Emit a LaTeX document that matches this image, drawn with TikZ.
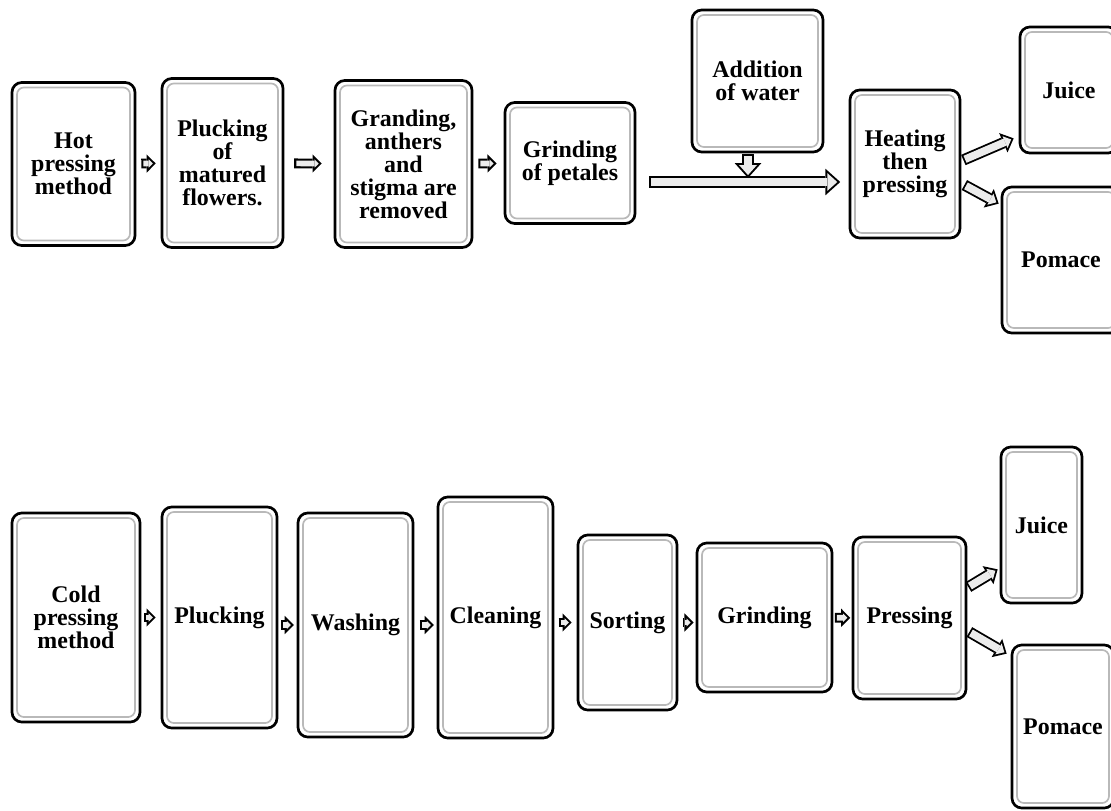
\documentclass[tikz,border=0pt]{standalone}
\usepackage{fontspec}
\setmainfont{Liberation Serif}
\usetikzlibrary{calc,arrows.meta}

\tikzset{
  stage/.style={draw=black, line width=1.9pt, rounded corners=7pt, fill=white, align=center, inner sep=2pt, font=\fontsize{17}{16.4}\selectfont\bfseries},
  rim/.style={draw=gray!55, line width=1.2pt, rounded corners=5pt},
  flow/.style 2 args={draw=black, line width=7pt, -{Triangle[line width=0pt,length=6.5pt,width=13pt]}, shorten <=#1, shorten >=#2,
    postaction={draw=gray!15, line width=4pt, -{Triangle[line width=0pt,length=2.9pt,width=5.8pt]}, shorten <=#1+1.5pt, shorten >=#2+2.1pt}},
  wideflow/.style={draw=black, line width=8pt, -{Triangle[line width=0pt,length=8pt,width=15pt]},
    postaction={draw=gray!15, line width=5.4pt, -{Triangle[line width=0pt,length=4.8pt,width=9pt]}, shorten <=1.3pt, shorten >=1.9pt}},
  bigflow/.style 2 args={draw=black, line width=9pt, -{Triangle[line width=0pt,length=10.6pt,width=19pt]}, shorten <=#1, shorten >=#2,
    postaction={draw=gray!15, line width=6.2pt, -{Triangle[line width=0pt,length=7.1pt,width=12.7pt]}, shorten <=#1+1.4pt, shorten >=#2+2.1pt}},
}

\begin{document}
\begin{tikzpicture}[x=0.025cm, y=-0.025cm]
%%%%% START %%%%%
\useasboundingbox (0,0) rectangle (1111,810);
\clip (0,0) rectangle (1111,810);

% hot pressing
\node[stage, minimum width=3.075cm, minimum height=4.075cm] (hotm) at (73.5,164) {Hot\\pressing\\method};
\node[stage, minimum width=3.025cm, minimum height=4.225cm] (hpluck) at (222.5,163) {Plucking\\of\\matured\\flowers.};
\node[stage, minimum width=3.425cm, minimum height=4.175cm] (granding) at (403.5,164) {Granding,\\anthers\\and\\stigma are\\removed};
\node[stage, minimum width=3.25cm, minimum height=3.025cm] (petals) at (570,163) {Grinding\\of petales};
\node[stage, minimum width=3.275cm, minimum height=3.55cm] (water) at (757.5,81) {Addition\\of water};
\node[stage, minimum width=2.75cm, minimum height=3.7cm] (heating) at (905,164) {Heating\\then\\pressing};
\node[stage, minimum width=2.45cm, minimum height=3.15cm] (hjuice) at (1069,90) {Juice};
\node[stage, minimum width=2.95cm, minimum height=3.65cm] (hpomace) at (1061,260) {Pomace};

% cold pressing
\node[stage, minimum width=3.2cm, minimum height=5.225cm] (coldm) at (76,617.5) {Cold\\pressing\\method};
\node[stage, minimum width=2.875cm, minimum height=5.525cm] (cpluck) at (219.5,617.5) {Plucking};
\node[stage, minimum width=2.875cm, minimum height=5.6cm] (washing) at (355.5,625) {Washing};
\node[stage, minimum width=2.875cm, minimum height=6.025cm] (cleaning) at (495.5,617.5) {Cleaning};
\node[stage, minimum width=2.475cm, minimum height=4.375cm] (sorting) at (627.5,622.5) {Sorting};
\node[stage, minimum width=3.375cm, minimum height=3.725cm] (grinding) at (764.5,617.5) {Grinding};
\node[stage, minimum width=2.825cm, minimum height=4.05cm] (pressing) at (909.5,618) {Pressing};
\node[stage, minimum width=2.025cm, minimum height=3.9cm] (cjuice) at (1041.5,525) {Juice};
\node[stage, minimum width=2.55cm, minimum height=4.075cm] (cpomace) at (1063,726.5) {Pomace};

\foreach \n in {hotm,hpluck,granding,petals,water,heating,hjuice,hpomace,coldm,cpluck,washing,cleaning,sorting,grinding,pressing,cjuice,cpomace}
  \draw[rim] ($(\n.north west)+(4.5pt,-4.5pt)$) rectangle ($(\n.south east)+(-4.5pt,4.5pt)$);

% top flow
\coordinate (mix) at (748,182);
\coordinate (drop) at (748,178);
\draw[flow={3.5pt}{3.5pt}] (hotm) -- (hpluck);
\draw[flow={7pt}{8.5pt}] (hpluck) -- (granding);
\draw[flow={3.5pt}{5pt}] (granding) -- (petals);
\draw[bigflow={9pt}{6pt}] (petals.east |- mix) -- (heating.west |- mix);
\draw[bigflow={0.5pt}{0pt}] (drop |- water.south) -- (drop);
\draw[wideflow] ($(heating.east)+(2,-4)$) -- ($(hjuice.south west)+(-5,-16)$);
\draw[wideflow] ($(heating.east)+(3,21)$) -- ($(hpomace.north west)+(-2,18)$);

% bottom flow
\draw[flow={2pt}{3.5pt}] (coldm) -- (cpluck);
\draw[flow={2pt}{2pt}] (cpluck.east |- washing) -- (washing);
\draw[flow={4pt}{2pt}] (washing) -- (washing -| cleaning.west);
\draw[flow={3pt}{3.5pt}] (cleaning.east |- sorting) -- (sorting);
\draw[flow={3.5pt}{1.5pt}] (sorting) -- (sorting -| grinding.west);
\draw[flow={1pt}{1pt}] (grinding) -- (pressing);
\draw[wideflow] ($(pressing.east)+(1,-31)$) -- ($(cjuice.south west)+(-2,-35)$);
\draw[wideflow] ($(pressing.east)+(2,14)$) -- ($(cpomace.north west)+(-4,10)$);

%%%%% END %%%%%
\end{tikzpicture}
\end{document}
